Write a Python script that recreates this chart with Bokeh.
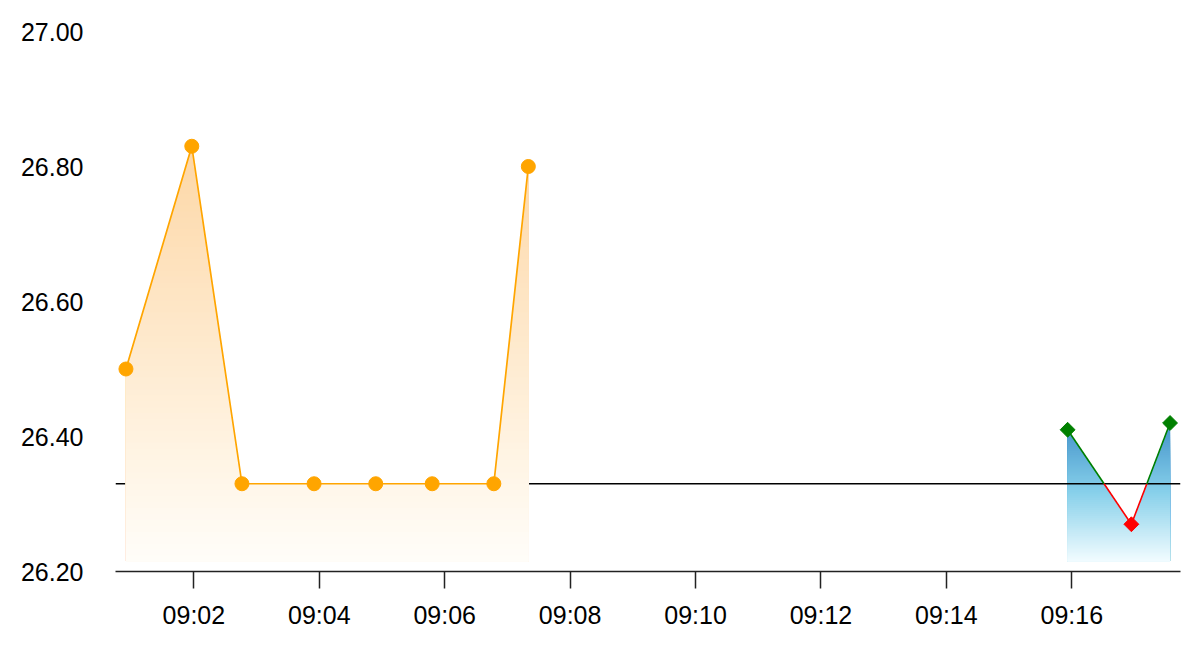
import numpy as np
from bokeh.plotting import figure
from bokeh.models import Range1d, FixedTicker, DatetimeTickFormatter, NumeralTickFormatter
from bokeh.embed import file_html
from bokeh.resources import INLINE

# ---------------- data ----------------
DAY = "2024-01-01T"
orange_times = ["09:00:55", "09:01:58", "09:02:46", "09:03:55", "09:04:54",
                "09:05:48", "09:06:47", "09:07:20"]
orange_values = [26.50, 26.83, 26.33, 26.33, 26.33, 26.33, 26.33, 26.80]

right_times = ["09:15:56", "09:16:57", "09:17:34"]
right_values = [26.41, 26.27, 26.42]

threshold = 26.33
fill_base = 26.215

x_tick_labels = ["09:02", "09:04", "09:06", "09:08", "09:10", "09:12", "09:14", "09:16"]
y_ticks = [26.20, 26.40, 26.60, 26.80, 27.00]
x_start, x_end = "09:00:45", "09:17:44"
y_start, y_end = 26.20, 27.00


def ms(t):
    if len(t) == 5:
        t = t + ":00"
    return float((np.datetime64(DAY + t) - np.datetime64("1970-01-01T00:00:00")) / np.timedelta64(1, "ms"))


FONT = "Liberation Sans"

p = figure(width=1184, height=640, x_axis_type="datetime", output_backend="svg",
           toolbar_location=None, min_border_left=115, min_border_right=4,
           min_border_top=31, min_border_bottom=69)
p.x_range = Range1d(ms(x_start), ms(x_end))
p.y_range = Range1d(y_start, y_end)
p.outline_line_color = None
p.xgrid.grid_line_color = None
p.ygrid.grid_line_color = None
p.background_fill_color = "white"
p.border_fill_color = "white"


def lerp_stops(stops, t):
    t = min(max(t, 0.0), 1.0)
    for (t0, c0), (t1, c1) in zip(stops[:-1], stops[1:]):
        if t <= t1:
            f = (t - t0) / (t1 - t0) if t1 > t0 else 0
            return tuple(int(round(a + (b - a) * f)) for a, b in zip(c0, c1))
    return stops[-1][1]


def gradient_area(xs_ms, ys, stops, n=70):
    xs_ms = np.asarray(xs_ms, float)
    ys = np.asarray(ys, float)
    dense = np.union1d(np.linspace(xs_ms[0], xs_ms[-1], 800), xs_ms)
    dy = np.interp(dense, xs_ms, ys)
    top = ys.max()
    h = (top - fill_base) / n
    for i in range(n - 1, -1, -1):
        hi = fill_base + (i + 1) * h
        t = (i + 0.5) / n
        r, g, b = lerp_stops(stops, t)
        col = "#%02x%02x%02x" % (r, g, b)
        p.varea(x=dense, y1=np.full_like(dense, fill_base), y2=np.clip(dy, fill_base, hi),
                fill_color=col, fill_alpha=1.0)


ox = [ms(t) for t in orange_times]
rx = [ms(t) for t in right_times]

blue_stops = [(0.0, (242, 252, 255)), (0.5, (135, 208, 234)), (1.0, (66, 146, 202))]
orange_stops = [(0.0, (255, 253, 249)), (0.2, (255, 246, 232)), (1.0, (253, 215, 166))]

# blue area first (reference line drawn over it)
gradient_area(rx, right_values, blue_stops)

# reference line
p.line(x=[ms(x_start), ms(x_end)], y=[threshold, threshold], line_color="black", line_width=1.5)

# orange area covers the reference line
gradient_area(ox, orange_values, orange_stops)

# orange line and markers
p.line(x=ox, y=orange_values, line_color="#FFA500", line_width=1.7)
p.scatter(x=ox, y=orange_values, size=14, marker="circle", fill_color="#FFA500",
          line_color="#FFA500")

# right series: colour by threshold
for i in range(len(rx) - 1):
    x0, x1 = rx[i], rx[i + 1]
    y0, y1 = right_values[i], right_values[i + 1]
    if (y0 - threshold) * (y1 - threshold) < 0:
        xc = x0 + (threshold - y0) / (y1 - y0) * (x1 - x0)
        c0 = "green" if y0 >= threshold else "red"
        c1 = "green" if y1 >= threshold else "red"
        p.line(x=[x0, xc], y=[y0, threshold], line_color=c0, line_width=1.6)
        p.line(x=[xc, x1], y=[threshold, y1], line_color=c1, line_width=1.6)
    else:
        c = "green" if y0 >= threshold else "red"
        p.line(x=[x0, x1], y=[y0, y1], line_color=c, line_width=1.6)

mcols = ["green" if v >= threshold else "red" for v in right_values]
p.scatter(x=rx, y=right_values, marker="square", size=10.5, angle=np.pi / 4,
          fill_color=mcols, line_color=mcols)

# axes
p.xaxis.ticker = FixedTicker(ticks=[ms(t) for t in x_tick_labels])
fmt = "%H:%M"
p.xaxis.formatter = DatetimeTickFormatter(milliseconds=fmt, seconds=fmt, minsec=fmt, minutes=fmt,
                                          hourmin=fmt, hours=fmt, days=fmt, months=fmt, years=fmt)
p.xaxis.axis_line_color = "#222222"
p.xaxis.axis_line_width = 1.3
p.xaxis.major_tick_line_color = "#222222"
p.xaxis.major_tick_line_width = 1.5
p.xaxis.major_tick_in = 0
p.xaxis.major_tick_out = 17
p.xaxis.minor_tick_line_color = None
p.xaxis.major_label_standoff = 12
p.xaxis.major_label_text_font = FONT
p.xaxis.major_label_text_font_size = "25px"
p.xaxis.major_label_text_color = "black"

p.yaxis.ticker = FixedTicker(ticks=y_ticks)
p.yaxis.formatter = NumeralTickFormatter(format="0.00")
p.yaxis.axis_line_color = None
p.yaxis.major_tick_line_color = None
p.yaxis.minor_tick_line_color = None
p.yaxis.major_tick_in = 0
p.yaxis.major_tick_out = 0
p.yaxis.major_label_standoff = 32
p.yaxis.major_label_text_font = FONT
p.yaxis.major_label_text_font_size = "25px"
p.yaxis.major_label_text_color = "black"

open("out.html", "w").write(file_html(p, INLINE))
